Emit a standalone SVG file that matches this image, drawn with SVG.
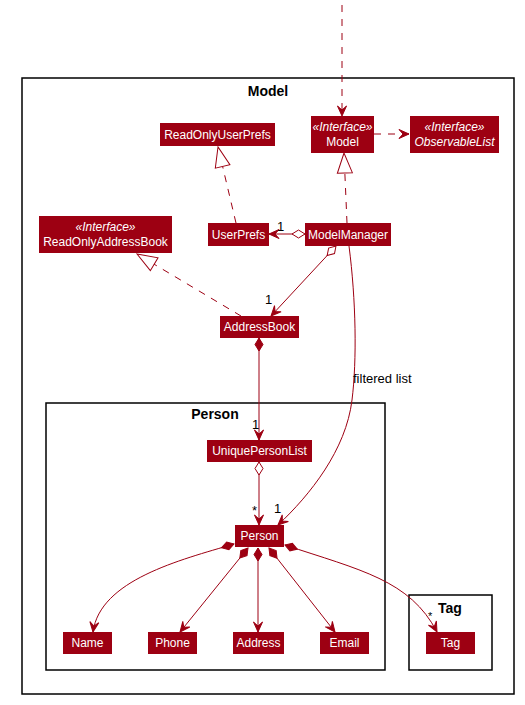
<svg xmlns="http://www.w3.org/2000/svg" width="525" height="705" viewBox="0 0 525 705">
<style>
.frame{fill:none;stroke:#000;stroke-width:1.5}
.ftitle{font-family:"Liberation Sans",Arial,sans-serif;font-size:14px;font-weight:bold;fill:#000;text-anchor:middle}
.box{fill:#9D0012}
.lbl{font-family:"Liberation Sans",Arial,sans-serif;font-size:12px;fill:#fff;text-anchor:middle}
.st{font-style:italic}
.c{fill:none;stroke:#9D0012;stroke-width:1}
.d{stroke-dasharray:7,7}
.m{font-family:"Liberation Sans",Arial,sans-serif;font-size:13px;fill:#000}
</style>
<defs>
<marker id="arr" markerUnits="userSpaceOnUse" viewBox="-11 -6 12 12" refX="0" refY="0" markerWidth="12" markerHeight="12" orient="auto">
<path d="M0,0 L-10,-4.5 L-6,0 L-10,4.5 Z" fill="#9D0012" stroke="#9D0012" stroke-width="1" stroke-dasharray="none"/>
</marker>
<marker id="tri" markerUnits="userSpaceOnUse" viewBox="-22 -9 23 18" refX="0" refY="0" markerWidth="23" markerHeight="18" orient="auto">
<path d="M0,0 L-20,-7.5 L-20,7.5 Z" fill="#fff" stroke="#9D0012" stroke-width="1" stroke-dasharray="none"/>
</marker>
<marker id="dia" markerUnits="userSpaceOnUse" viewBox="-1 -5 15 10" refX="0" refY="0" markerWidth="15" markerHeight="10" orient="auto">
<path d="M0,0 L6.5,-4 L13,0 L6.5,4 Z" fill="#fff" stroke="#9D0012" stroke-width="1" stroke-dasharray="none"/>
</marker>
<marker id="fdia" markerUnits="userSpaceOnUse" viewBox="-1 -5 15 10" refX="0" refY="0" markerWidth="15" markerHeight="10" orient="auto">
<path d="M0,0 L6.5,-4 L13,0 L6.5,4 Z" fill="#9D0012" stroke="#9D0012" stroke-width="1" stroke-dasharray="none"/>
</marker>
</defs>

<g id="frames">
<rect class="frame" x="22" y="78" width="492" height="616"/>
<text class="ftitle" x="268" y="96">Model</text>
<rect class="frame" x="46" y="403" width="339" height="267"/>
<text class="ftitle" x="215" y="419">Person</text>
<rect class="frame" x="409" y="595" width="83" height="75"/>
<text class="ftitle" x="450" y="613">Tag</text>
</g>

<g id="connectors">
<path class="c d" d="M342,5 L342,116" marker-end="url(#arr)"/>
<path class="c d" d="M374,134 L409,134" marker-end="url(#arr)"/>
<path class="c d" d="M347,223 L344,153" marker-end="url(#tri)"/>
<path class="c d" d="M236,223 L218,147" marker-end="url(#tri)"/>
<path class="c" d="M305,234 L269,234" marker-start="url(#dia)" marker-end="url(#arr)"/>
<path class="c" d="M336,246 L271,316" marker-start="url(#dia)" marker-end="url(#arr)"/>
<path class="c d" d="M241,316 L137,254" marker-end="url(#tri)"/>
<path class="c" d="M259,338 L259,440" marker-start="url(#fdia)" marker-end="url(#arr)"/>
<path class="c" d="M259,462 L259,525" marker-start="url(#dia)" marker-end="url(#arr)"/>
<path class="c" d="M349,246 C356,300 357,360 352,400 C346,450 310,495 278,525" marker-end="url(#arr)"/>
<path class="c" d="M234,544 C180,560 100,580 93,632" marker-start="url(#fdia)" marker-end="url(#arr)"/>
<path class="c" d="M248,548 L180,632" marker-start="url(#fdia)" marker-end="url(#arr)"/>
<path class="c" d="M258,548 L258,632" marker-start="url(#fdia)" marker-end="url(#arr)"/>
<path class="c" d="M269,548 L335,632" marker-start="url(#fdia)" marker-end="url(#arr)"/>
<path class="c" d="M285,545 C360,570 410,580 437,632" marker-start="url(#fdia)" marker-end="url(#arr)"/>
<text class="m" x="277" y="231">1</text>
<text class="m" x="265" y="304">1</text>
<text class="m" x="252" y="429">1</text>
<text class="m" x="252" y="515">*</text>
<text class="m" x="274" y="513">1</text>
<text class="m" x="353" y="383">filtered list</text>
<text class="m" x="428" y="620" style="font-size:11px">*</text>
</g>

<g id="ReadOnlyUserPrefs"><rect class="box" x="160" y="123" width="115" height="23"/><text class="lbl" x="217.5" y="139">ReadOnlyUserPrefs</text></g>
<g id="Model"><rect class="box" x="311" y="116" width="63" height="37"/><text class="lbl st" x="342.5" y="131">«Interface»</text><text class="lbl" x="342.5" y="146">Model</text></g>
<g id="ObservableList"><rect class="box" x="410" y="116" width="89" height="37"/><text class="lbl st" x="454.5" y="131">«Interface»</text><text class="lbl st" x="454.5" y="146">ObservableList</text></g>
<g id="UserPrefs"><rect class="box" x="208" y="223" width="61" height="23"/><text class="lbl" x="238.5" y="239">UserPrefs</text></g>
<g id="ModelManager"><rect class="box" x="305" y="223" width="86" height="23"/><text class="lbl" x="348" y="239">ModelManager</text></g>
<g id="ReadOnlyAddressBook"><rect class="box" x="39" y="216" width="133" height="37"/><text class="lbl st" x="105.5" y="231">«Interface»</text><text class="lbl" x="105.5" y="246">ReadOnlyAddressBook</text></g>
<g id="AddressBook"><rect class="box" x="220" y="316" width="79" height="22"/><text class="lbl" x="259.5" y="331">AddressBook</text></g>
<g id="UniquePersonList"><rect class="box" x="207" y="440" width="105" height="22"/><text class="lbl" x="259.5" y="455">UniquePersonList</text></g>
<g id="Person"><rect class="box" x="235" y="525" width="49" height="22"/><text class="lbl" x="259.5" y="540">Person</text></g>
<g id="Name"><rect class="box" x="63" y="632" width="49" height="22"/><text class="lbl" x="87.5" y="647">Name</text></g>
<g id="Phone"><rect class="box" x="148" y="632" width="49" height="22"/><text class="lbl" x="172.5" y="647">Phone</text></g>
<g id="Address"><rect class="box" x="233" y="632" width="51" height="22"/><text class="lbl" x="258.5" y="647">Address</text></g>
<g id="Email"><rect class="box" x="320" y="632" width="49" height="22"/><text class="lbl" x="344.5" y="647">Email</text></g>
<g id="Tag"><rect class="box" x="426" y="632" width="49" height="22"/><text class="lbl" x="450.5" y="647">Tag</text></g>
</svg>
